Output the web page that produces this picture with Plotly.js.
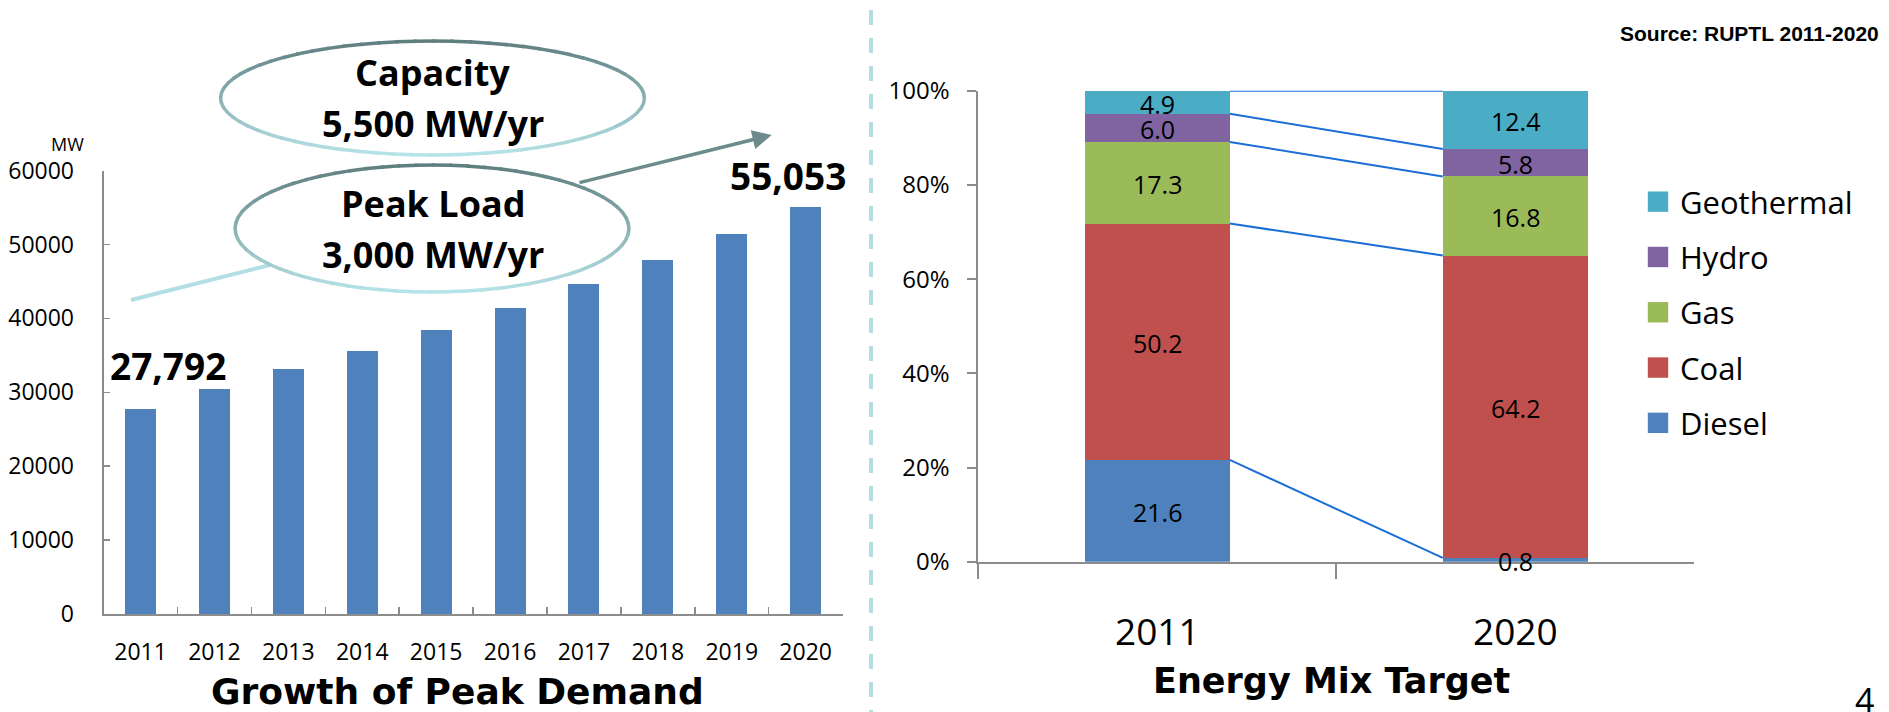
<!DOCTYPE html>
<html>
<head>
<meta charset="utf-8">
<script src="https://cdn.plot.ly/plotly-3.0.1.min.js"></script>
<style>
  html, body { margin: 0; padding: 0; background: #ffffff; }
  #chart { width: 1889px; height: 712px; }
  /* larger legend colour squares, as in the reference */
  #chart .legendpoints path { transform: translate(18px, 0px) scale(1.7); }
</style>
</head>
<body>
<div id="chart"></div>
<script>
// ---------------- DATA ----------------
const demandYears = ['2011', '2012', '2013', '2014', '2015', '2016', '2017', '2018', '2019', '2020'];
const peakDemand = [27792, 30450, 33150, 35590, 38430, 41410, 44660, 47900, 51420, 55053];

const mixYears = ['2011', '2020'];
const diesel = [21.6, 0.8];
const coal = [50.2, 64.2];
const gas = [17.3, 16.8];
const hydro = [6.0, 5.8];
const geothermal = [4.9, 12.4];
const mixNames = ['Diesel', 'Coal', 'Gas', 'Hydro', 'Geothermal'];

const capacityText = ['Capacity', '5,500 MW/yr'];
const peakLoadText = ['Peak Load', '3,000 MW/yr'];

// ---------------- STYLE ----------------
const W = 1889, H = 712;
const px = x => x / W;
const py = y => 1 - y / H;
const axisGray = '#8c8c8c';
const mixColors = ['#4F81BD', '#C0504D', '#9BBB59', '#8064A2', '#4BACC6'];
const connColor = '#1a6fd6';
const bargap = 0.595;

const traces = [];
const ann = [];

// Left chart: peak demand
traces.push({
  type: 'bar', x: demandYears, y: peakDemand, xaxis: 'x', yaxis: 'y',
  marker: { color: '#4F81BD' }, width: 0.42, showlegend: false, hoverinfo: 'skip'
});

// Right chart: energy mix stacked bars
const mixSeries = [diesel, coal, gas, hydro, geothermal];
const base = mixYears.map(() => 0);
mixSeries.forEach((vals, i) => {
  traces.push({
    type: 'bar', x: mixYears, y: vals, name: mixNames[i], xaxis: 'x2', yaxis: 'y2',
    marker: { color: mixColors[i] },
    legendgroup: mixNames[i], legendrank: 100 - i * 10, hoverinfo: 'skip'
  });
  // value labels centred in each segment
  vals.forEach((v, j) => {
    ann.push({
      xref: 'x2', yref: 'y2', x: j, y: base[j] + v / 2, text: v.toFixed(1),
      showarrow: false, xanchor: 'center', yanchor: 'middle', yshift: -1.5,
      font: { family: 'Open Sans', size: 25, color: '#000000' }
    });
    base[j] += v;
  });
});

// Connector lines between stack boundaries
const half = (1 - bargap) / 2;
let cumA = 0, cumB = 0;
mixSeries.forEach((vals) => {
  cumA += vals[0]; cumB += vals[1];
  traces.push({
    type: 'scatter', mode: 'lines', x: [half, 1 - half], y: [cumA, cumB],
    xaxis: 'x3', yaxis: 'y2', line: { color: connColor, width: 2 },
    showlegend: false, hoverinfo: 'skip'
  });
});

// ---------------- SHAPES ----------------
const shapes = [];
shapes.push({
  type: 'line', xref: 'paper', yref: 'paper', x0: px(871), x1: px(871), y0: py(10), y1: py(712),
  line: { color: '#B3DEE1', width: 4, dash: '15px,13px' }, layer: 'above'
});
shapes.push({
  type: 'line', xref: 'paper', yref: 'paper', x0: px(131), y0: py(300), x1: px(270), y1: py(265),
  line: { color: '#B2DFE3', width: 4 }, layer: 'above'
});

function hex2rgb(h) { return [1, 3, 5].map(i => parseInt(h.substr(i, 2), 16)); }
function mix(c1, c2, t) {
  const a = hex2rgb(c1), b = hex2rgb(c2);
  return 'rgb(' + a.map((v, i) => Math.round(v + (b[i] - v) * t)).join(',') + ')';
}
function ellipse(cx, cy, rx, ry) {
  shapes.push({
    type: 'circle', xref: 'paper', yref: 'paper',
    x0: px(cx - rx), x1: px(cx + rx), y0: py(cy + ry), y1: py(cy - ry),
    fillcolor: '#ffffff', line: { width: 0 }, layer: 'above'
  });
  const N = 72;
  for (let k = 0; k < N; k++) {
    const a0 = 2 * Math.PI * k / N, a1 = 2 * Math.PI * (k + 1.15) / N;
    const am = (a0 + a1) / 2;
    const t = (1 + Math.sin(am)) / 2;
    const x0 = cx + rx * Math.cos(a0), y0 = cy + ry * Math.sin(a0);
    const x1 = cx + rx * Math.cos(a1), y1 = cy + ry * Math.sin(a1);
    shapes.push({
      type: 'path', xref: 'paper', yref: 'paper',
      path: 'M' + px(x0) + ',' + py(y0) + ' L' + px(x1) + ',' + py(y1),
      line: { color: mix('#5F7E80', '#B6E3E7', t), width: 3.5 }, layer: 'above'
    });
  }
}
ellipse(432.5, 98, 212, 57);
ellipse(432, 228.5, 197, 63.5);

// ---------------- ANNOTATIONS ----------------
const fmt = v => v.toLocaleString('en-US');
function paperText(text, x, y, size, opts) {
  ann.push(Object.assign({
    xref: 'paper', yref: 'paper', x: px(x), y: py(y), text: text, showarrow: false,
    xanchor: 'center', yanchor: 'middle',
    font: { family: 'Open Sans', size: size, color: '#000000' }
  }, opts || {}));
}
ann.push({
  xref: 'paper', yref: 'paper', axref: 'paper', ayref: 'paper',
  x: px(771.7), y: py(135), ax: px(578), ay: py(183), text: '',
  showarrow: true, arrowhead: 2, arrowsize: 1.1, arrowwidth: 3.5, arrowcolor: '#6C8B8D', standoff: 0
});
paperText('<b>' + capacityText[0] + '</b>', 432.5, 72.5, 36);
paperText('<b>' + capacityText[1] + '</b>', 432.5, 124, 36);
paperText('<b>' + peakLoadText[0] + '</b>', 432.5, 203.5, 36);
paperText('<b>' + peakLoadText[1] + '</b>', 432.5, 254.5, 36);
paperText('MW', 67.5, 144, 18);
// data callouts for first and last years
const last = peakDemand.length - 1;
ann.push({
  xref: 'x', yref: 'y', x: 0, y: peakDemand[0], text: '<b>' + fmt(peakDemand[0]) + '</b>',
  showarrow: false, xanchor: 'center', yanchor: 'middle', xshift: 27, yshift: 43.6,
  font: { family: 'Open Sans', size: 37, color: '#000000' }
});
ann.push({
  xref: 'x', yref: 'y', x: last, y: peakDemand[last], text: '<b>' + fmt(peakDemand[last]) + '</b>',
  showarrow: false, xanchor: 'center', yanchor: 'middle', xshift: -18, yshift: 31.2,
  font: { family: 'Open Sans', size: 37, color: '#000000' }
});
// Titles and notes
paperText('<b>Growth of Peak Demand</b>', 457, 691, 36, { font: { family: 'DejaVu Sans', size: 36, color: '#000000' } });
paperText('<b>Energy Mix Target</b>', 1331.7, 681, 35, { font: { family: 'DejaVu Sans', size: 35, color: '#000000' } });
paperText('<b>Source: RUPTL 2011-2020</b>', 1749, 33.5, 21, { font: { family: 'Liberation Sans, Arial, sans-serif', size: 21, color: '#000000' } });
paperText('4', 1864, 700, 34);

// ---------------- LAYOUT ----------------
const tickGray = { linecolor: axisGray, tickcolor: axisGray };
const layout = {
  width: W, height: H, autosize: false,
  margin: { l: 0, r: 0, t: 0, b: 0, pad: 0 },
  paper_bgcolor: '#ffffff', plot_bgcolor: 'rgba(0,0,0,0)',
  font: { family: 'Open Sans', color: '#000000' },
  barmode: 'stack', bargap: bargap,
  showlegend: true,
  legend: {
    x: px(1640), y: py(175), xanchor: 'left', yanchor: 'top',
    traceorder: 'grouped', tracegroupgap: 12,
    font: { family: 'Open Sans', size: 31, color: '#000000' },
    bgcolor: 'rgba(0,0,0,0)', borderwidth: 0
  },
  xaxis: Object.assign({
    domain: [px(103.6), px(842.6)], anchor: 'y', type: 'category', range: [-0.5, 9.5],
    showline: true, linewidth: 2, ticks: 'inside', tickson: 'boundaries', ticklen: 7, tickwidth: 1.5,
    tickfont: { family: 'Open Sans', size: 23, color: '#000000' }, ticklabelstandoff: 16,
    showgrid: false, zeroline: false, automargin: false, fixedrange: true
  }, tickGray),
  yaxis: Object.assign({
    domain: [1 - 614 / H, 1 - 170.6 / H], anchor: 'x', range: [0, 60000], dtick: 10000, tickformat: 'd',
    showline: true, linewidth: 2, ticks: 'inside', ticklen: 6, tickwidth: 1.5,
    tickfont: { family: 'Open Sans', size: 23, color: '#000000' }, ticklabelstandoff: 23,
    showgrid: false, zeroline: false, automargin: false, fixedrange: true
  }, tickGray),
  xaxis2: Object.assign({
    domain: [px(978.3), px(1694.3)], anchor: 'y2', type: 'category', range: [-0.5, 1.5],
    showline: true, linewidth: 2, ticks: 'outside', tickson: 'boundaries', ticklen: 15, tickwidth: 2,
    tickfont: { family: 'Open Sans', size: 37, color: '#000000' }, ticklabelstandoff: 37,
    showgrid: false, zeroline: false, automargin: false, fixedrange: true
  }, tickGray),
  xaxis3: {
    domain: [px(978.3), px(1694.3)], anchor: 'y2', overlaying: 'x2', type: 'linear', range: [-0.5, 1.5],
    visible: false, fixedrange: true
  },
  yaxis2: Object.assign({
    domain: [1 - 561.7 / H, 1 - 90.7 / H], anchor: 'x2', range: [0, 100], dtick: 20, ticksuffix: '%',
    showline: true, linewidth: 2, ticks: 'outside', ticklen: 9, tickwidth: 2,
    tickfont: { family: 'Open Sans', size: 24, color: '#000000' }, ticklabelstandoff: 13,
    showgrid: false, zeroline: false, automargin: false, fixedrange: true
  }, tickGray),
  shapes: shapes,
  annotations: ann
};

Plotly.newPlot('chart', traces, layout, { staticPlot: true, displayModeBar: false });
</script>
</body>
</html>
